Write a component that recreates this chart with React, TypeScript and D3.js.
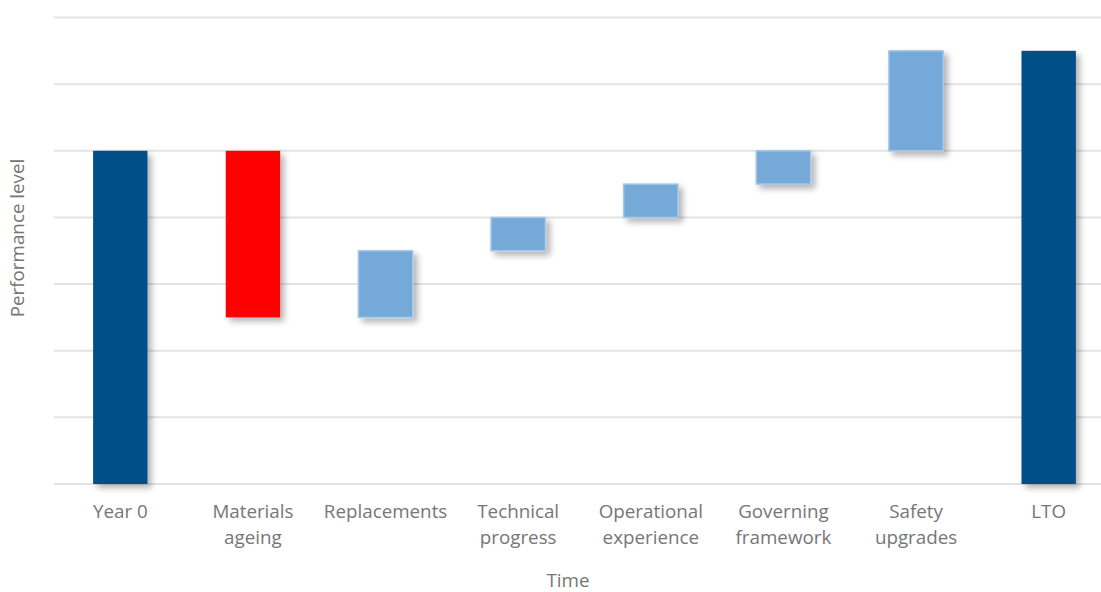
import React from "react";
import * as d3 from "d3";

const categories = [
  ["Year 0"],
  ["Materials", "ageing"],
  ["Replacements"],
  ["Technical", "progress"],
  ["Operational", "experience"],
  ["Governing", "framework"],
  ["Safety", "upgrades"],
  ["LTO"],
];
const barStart = [0, 5, 2.5, 3.5, 4.0, 4.5, 5.0, 0];
const barEnd = [5, 2.5, 3.5, 4.0, 4.5, 5.0, 6.5, 6.5];
const barKind = ["total", "down", "up", "up", "up", "up", "up", "total"];
const gridTicks = [0, 1, 2, 3, 4, 5, 6, 7];

const colors: Record<string, string> = { total: "#004f88", down: "#ff0000", up: "#75aad8" };

export default function App() {
  const W = 1101, H = 592;
  const x = d3.scaleBand<number>().domain(d3.range(categories.length)).range([54, 1115]).paddingInner(0.59).paddingOuter(0.295);
  const y = d3.scaleLinear().domain([0, 7]).range([484, 17.5]);
  const font = "'Open Sans', 'Noto Sans', sans-serif";
  const fs = 18.8;
  return (
    <svg width={W} height={H} style={{ position: "absolute", left: 0, top: 0 }}>
      <defs>
        <filter id="sh" x="-30%" y="-30%" width="160%" height="160%">
          <feGaussianBlur in="SourceAlpha" stdDeviation="3" />
          <feOffset dx="4" dy="4" result="b" />
          <feComponentTransfer><feFuncA type="linear" slope="0.3" /></feComponentTransfer>
          <feMerge><feMergeNode /><feMergeNode in="SourceGraphic" /></feMerge>
        </filter>
      </defs>
      <rect width={W} height={H} fill="#fff" />
      {gridTicks.map((t) => (
        <line key={t} x1={54} x2={W} y1={y(t)} y2={y(t)} stroke="#e3e3e3" strokeWidth={2} />
      ))}
      {categories.map((c, i) => {
        const top = y(Math.max(barStart[i], barEnd[i]));
        const bot = y(Math.min(barStart[i], barEnd[i]));
        return (
          <rect key={i} x={x(i)} y={top} width={x.bandwidth()} height={bot - top}
            fill={colors[barKind[i]]} stroke={barKind[i] === "up" ? "#a6c8e8" : "none"}
            strokeWidth={barKind[i] === "up" ? 1.5 : 0} filter="url(#sh)" />
        );
      })}
      {categories.map((c, i) => (
        <text key={i} x={(x(i) as number) + x.bandwidth() / 2} y={518} textAnchor="middle"
          fontFamily={font} fontSize={fs} fill="#767676">
          {c.map((l, j) => (
            <tspan key={j} x={(x(i) as number) + x.bandwidth() / 2} dy={j === 0 ? 0 : 26}>{l}</tspan>
          ))}
        </text>
      ))}
      <text x={568} y={587} textAnchor="middle" fontFamily={font} fontSize={fs} fill="#767676">Time</text>
      <text transform="translate(24,238) rotate(-90)" textAnchor="middle" fontFamily={font} fontSize={fs} fill="#767676">Performance level</text>
    </svg>
  );
}
